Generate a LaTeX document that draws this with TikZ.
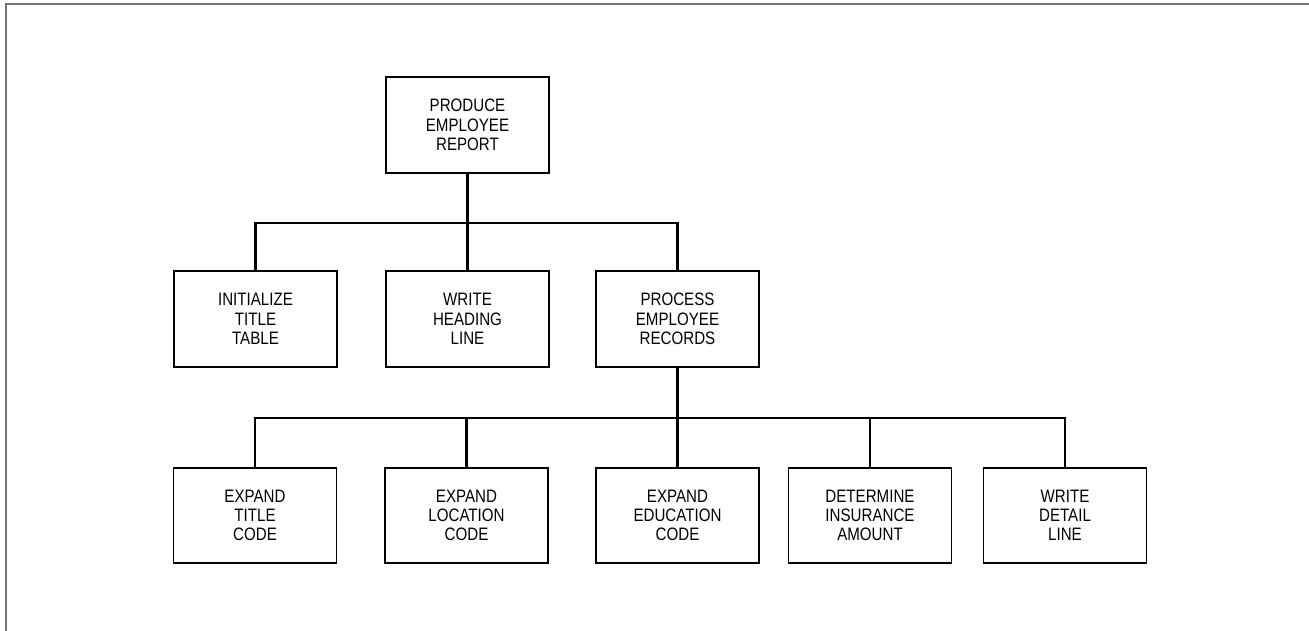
\documentclass[tikz,border=0pt]{standalone}
\usepackage{fontspec}
\setmainfont{Liberation Sans}[FakeStretch=0.84]
\begin{document}
\begin{tikzpicture}[x=1pt,y=-1pt,
  box/.style={draw=black, line width=1.3pt, minimum width=163pt, minimum height=96pt,
    align=center, inner sep=0pt, font=\fontsize{18}{19.2}\selectfont},
  lowbox/.style={box, minimum height=95pt},
  conn/.style={draw=black, line width=2.7pt, line cap=rect},
  frame/.style={draw=black!55, line width=1.2pt}]
\useasboundingbox (0,0) rectangle (1309,631);
% scan frame lines
\coordinate (ftl) at (6,4);
\coordinate (ftr) at (1309,4);
\coordinate (fbl) at (6,631);
\draw[frame] (fbl) -- (ftl) -- (ftr);
% nodes
\node[box] (top) at (467.5,125) {PRODUCE\\EMPLOYEE\\REPORT};
\node[box] (m1) at (255.5,319) {INITIALIZE\\TITLE\\TABLE};
\node[box] (m2) at (467.5,319) {WRITE\\HEADING\\LINE};
\node[box] (m3) at (677.5,319) {PROCESS\\EMPLOYEE\\RECORDS};
\node[lowbox] (b1) at (255,515.5) {EXPAND\\TITLE\\CODE};
\node[lowbox] (b2) at (466.5,515.5) {EXPAND\\LOCATION\\CODE};
\node[lowbox] (b3) at (677.5,515.5) {EXPAND\\EDUCATION\\CODE};
\node[lowbox] (b4) at (870,515.5) {DETERMINE\\INSURANCE\\AMOUNT};
\node[lowbox] (b5) at (1065,515.5) {WRITE\\DETAIL\\LINE};
% bus levels
\coordinate (busA) at (467.5,223);
\coordinate (busB) at (677.5,418);
% upper connectors
\draw[conn] (top.south) -- (busA);
\draw[conn] (m1.north) -- (m1.north |- busA) -- (m3.north |- busA) -- (m3.north);
\draw[conn] (m2.north) -- (m2.north |- busA);
% lower connectors
\draw[conn] (m3.south) -- (busB);
\draw[conn] (b1.north) -- (b1.north |- busB) -- (b5.north |- busB) -- (b5.north);
\draw[conn] (b2.north) -- (b2.north |- busB);
\draw[conn] (b3.north) -- (b3.north |- busB);
\draw[conn] (b4.north) -- (b4.north |- busB);
\end{tikzpicture}
\end{document}
